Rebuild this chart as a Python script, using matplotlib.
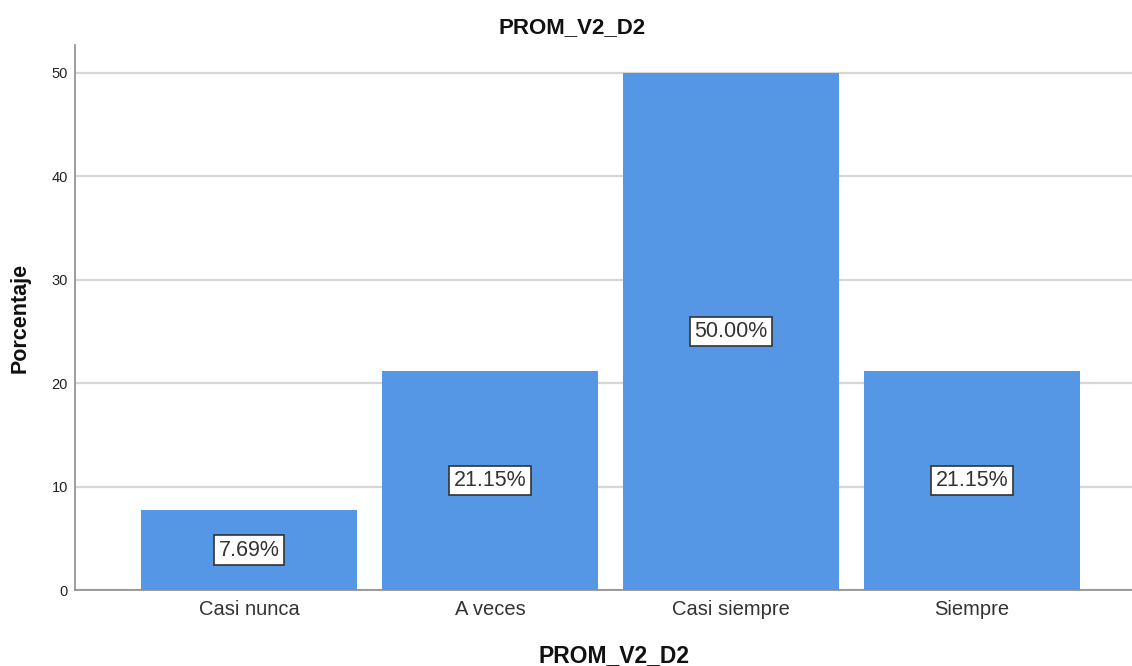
import numpy as np
import matplotlib.pyplot as plt

plt.rcParams['font.family'] = ['Liberation Sans', 'DejaVu Sans']

# frecuencias porcentuales por categoría
categorias = ['Casi nunca', 'A veces', 'Casi siempre', 'Siempre']
porcentajes = [7.69, 21.15, 50.00, 21.15]
ticks_y = [0, 10, 20, 30, 40, 50]

color_barra = '#5596e5'

fig = plt.figure(figsize=(11.32, 6.66), dpi=100)
ax = fig.add_axes([0.0663, 0.1141, 0.9337, 0.8183])

x = np.arange(len(categorias))
ax.bar(x, porcentajes, width=0.896, color=color_barra, zorder=3)

# etiquetas con el porcentaje en el centro de cada barra
for xi, p in zip(x, porcentajes):
    ax.text(xi, p / 2, f'{p:.2f}%', ha='center', va='center', fontsize=15.5,
            color='#333333', zorder=4,
            bbox=dict(boxstyle='square,pad=0.2', fc='white', ec='#333333', lw=1.2))

ax.set_xlim(-0.722, 3.664)
ax.set_ylim(0, 52.7)
ax.set_yticks(ticks_y)
ax.set_xticks(x)
ax.set_xticklabels(categorias, fontsize=14.5, color='#333333')
ax.tick_params(axis='y', length=0, labelsize=10.5, pad=5, colors='#222222')
ax.tick_params(axis='x', length=0, pad=7)
ax.grid(axis='y', color='#d6d6d6', lw=1.6, zorder=0)

for s in ['top', 'right']:
    ax.spines[s].set_visible(False)
for s in ['left', 'bottom']:
    ax.spines[s].set_color('#8c8c8c')
    ax.spines[s].set_linewidth(1.2)

fig.text(0.505, 0.958, 'PROM_V2_D2', ha='center', va='center',
         fontsize=16, fontweight='bold', color='#111111')
fig.text(0.542, 0.016, 'PROM_V2_D2', ha='center', va='center',
         fontsize=16.5, fontweight='bold', color='#111111')
fig.text(0.018, 0.523, 'Porcentaje', rotation=90, ha='center', va='center',
         fontsize=15.5, fontweight='bold', color='#111111')

fig.savefig('out.png', dpi=100)
